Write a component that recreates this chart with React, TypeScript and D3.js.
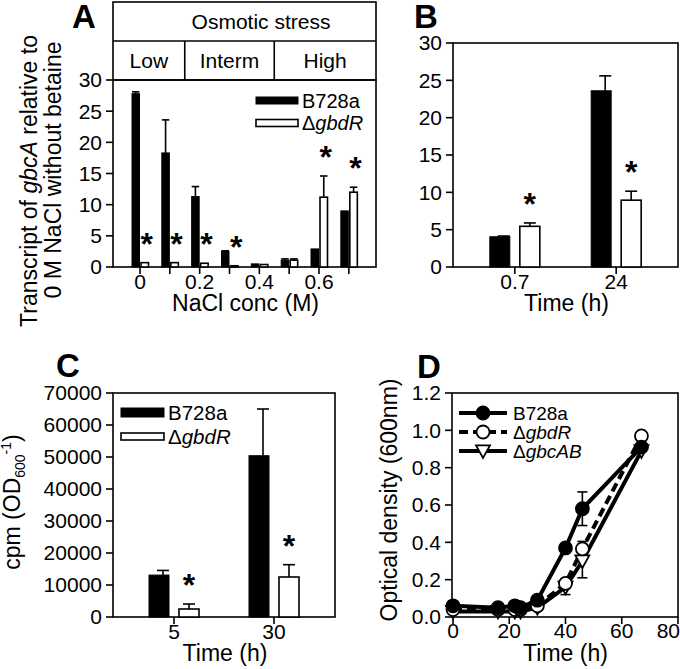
import React from 'react';
import * as d3 from 'd3';

const FONT = "'Liberation Sans', Arial, Helvetica, sans-serif";

// ---------- Panel A data ----------
const naclConc = [0, 0.1, 0.2, 0.3, 0.4, 0.5, 0.6, 0.7];
const naclTickLabels = [0, 0.2, 0.4, 0.6];
const aWild = [27.8, 18.3, 11.3, 2.5, 0.5, 1.1, 2.9, 9.0];
const aWildErr = [0.3, 5.3, 1.6, 0.1, 0, 0.2, 0, 0];
const aMut = [0.7, 0.7, 0.6, 0.2, 0.4, 1.1, 11.2, 12.0];
const aMutErr = [0, 0, 0, 0, 0, 0.2, 3.4, 0.8];
const aSig = [true, true, true, true, false, false, true, true];
const stressLevels = ['Low', 'Interm', 'High'];
const stressBounds = [0.15, 0.45];

// ---------- Panel B data ----------
const bTimes = ['0.7', '24'];
const bWild = [4.05, 23.6];
const bWildErr = [0.1, 2.0];
const bMut = [5.45, 8.95];
const bMutErr = [0.45, 1.2];
const bSig = [true, true];

// ---------- Panel C data ----------
const cTimes = ['5', '30'];
const cWild = [13100, 50400];
const cWildErr = [1450, 14600];
const cMut = [2500, 12500];
const cMutErr = [1560, 3850];
const cSig = [true, true];

// ---------- Panel D data ----------
const dTimes = [0, 16, 22, 24, 30, 40, 46, 67];
const dWild = [0.06, 0.05, 0.06, 0.05, 0.09, 0.37, 0.58, 0.91];
const dWildErr = [0, 0, 0, 0, 0, 0.02, 0.09, 0.01];
const dGbdR = [0.04, 0.04, 0.04, 0.04, 0.06, 0.18, 0.365, 0.97];
const dGbdRErr = [0, 0, 0, 0, 0, 0.02, 0.04, 0];
const dGbcAB = [0.03, 0.03, 0.03, 0.03, 0.05, 0.16, 0.30, 0.89];
const dGbcABErr = [0, 0, 0, 0, 0, 0.04, 0.09, 0];

const TICK = 21;
const TITLE = 23;
const SW = 1.6;

function Star({ x, y }: { x: number; y: number }) {
  return (
    <text x={x} y={y + 4} textAnchor="middle" fontSize={32} fontWeight="bold">*</text>
  );
}

function YAxis({ y, ticks, x0, fmt }: { y: any; ticks: number[]; x0: number; fmt: (v: number) => string }) {
  return (
    <g>
      {ticks.map((t) => (
        <g key={t}>
          <line x1={x0 - 7} x2={x0} y1={y(t)} y2={y(t)} stroke="#000" strokeWidth={SW} />
          <text x={x0 - 11} y={y(t)} dy="0.35em" textAnchor="end" fontSize={TICK}>{fmt(t)}</text>
        </g>
      ))}
    </g>
  );
}

function PanelA() {
  const L = 113, R = 376, T = 80, B = 267, HT = 2, HM = 41;
  const x = d3.scaleLinear().domain([0, 0.6]).range([140, 319]);
  const y = d3.scaleLinear().domain([0, 30]).range([B, T]);
  const yt = d3.range(0, 31, 5);
  const cellEdges = [L, ...stressBounds.map((b) => x(b)), R];
  return (
    <g>
      <text x={72} y={28} fontSize={33} fontWeight="bold">A</text>
      <rect x={L} y={HT} width={R - L} height={T - HT} fill="none" stroke="#000" strokeWidth={SW} />
      <line x1={L} x2={R} y1={HM} y2={HM} stroke="#000" strokeWidth={SW} />
      <text x={261} y={(HT + HM) / 2} dy="0.35em" textAnchor="middle" fontSize={21}>Osmotic stress</text>
      {stressBounds.map((b) => (
        <line key={b} x1={x(b)} x2={x(b)} y1={HM} y2={T} stroke="#000" strokeWidth={SW} />
      ))}
      {stressLevels.map((s, i) => (
        <text key={s} x={(cellEdges[i] + cellEdges[i + 1]) / 2} y={(HM + T) / 2} dy="0.35em" textAnchor="middle" fontSize={21}>{s}</text>
      ))}
      <rect x={L} y={T} width={R - L} height={B - T} fill="none" stroke="#000" strokeWidth={SW} />
      <YAxis y={y} ticks={yt} x0={L} fmt={(v) => String(v)} />
      {naclConc.map((v) => (
        <line key={v} x1={x(v)} x2={x(v)} y1={B} y2={B + 7} stroke="#000" strokeWidth={SW} />
      ))}
      {naclTickLabels.map((v) => (
        <text key={v} x={x(v)} y={289} textAnchor="middle" fontSize={TICK}>{String(v)}</text>
      ))}
      <text x={(L + R) / 2 + 1} y={311} textAnchor="middle" fontSize={TITLE}>NaCl conc (M)</text>
      {naclConc.map((v, i) => {
        const c = x(v);
        const bx0 = c - 8, bw = 7.5;
        const wx0 = c + 1, ww = 7.5;
        const wTop = y(aWild[i] + aWildErr[i]);
        const mTop = y(aMut[i] + aMutErr[i]);
        return (
          <g key={v}>
            <rect x={bx0} y={y(aWild[i])} width={bw} height={B - y(aWild[i])} fill="#000" stroke="#000" strokeWidth={1} />
            {aWildErr[i] > 0 && (
              <g stroke="#000" strokeWidth={SW}>
                <line x1={bx0 + bw / 2} x2={bx0 + bw / 2} y1={y(aWild[i])} y2={wTop} />
                <line x1={bx0} x2={bx0 + bw} y1={wTop} y2={wTop} />
              </g>
            )}
            <rect x={wx0} y={y(aMut[i])} width={ww} height={B - y(aMut[i])} fill="#fff" stroke="#000" strokeWidth={SW} />
            {aMutErr[i] > 0 && (
              <g stroke="#000" strokeWidth={SW}>
                <line x1={wx0 + ww / 2} x2={wx0 + ww / 2} y1={y(aMut[i])} y2={mTop} />
                <line x1={wx0} x2={wx0 + ww} y1={mTop} y2={mTop} />
              </g>
            )}
            {aSig[i] && <Star x={wx0 + ww / 2 + 2} y={mTop - 12} />}
          </g>
        );
      })}
      <rect x={256} y={97} width={42} height={7} fill="#000" stroke="#000" strokeWidth={1} />
      <text x={302} y={100.5} dy="0.35em" fontSize={20}>B728a</text>
      <rect x={256} y={119.5} width={42} height={7} fill="#fff" stroke="#000" strokeWidth={SW} />
      <text x={302} y={123} dy="0.35em" fontSize={20}>Δ<tspan fontStyle="italic">gbdR</tspan></text>
      <text transform={`translate(37,181) rotate(-90)`} textAnchor="middle" fontSize={TITLE}>
        Transcript of <tspan fontStyle="italic">gbcA</tspan> relative to
      </text>
      <text transform={`translate(61,170) rotate(-90)`} textAnchor="middle" fontSize={TITLE}>
        0 M NaCl without betaine
      </text>
    </g>
  );
}

function GroupedBars({ L, R, T, B, cats, wild, wildErr, mut, mutErr, sig, y }: any) {
  const x = d3.scalePoint().domain(cats).range([L, R]).padding(0.61);
  return (
    <g>
      {cats.map((c: string, i: number) => {
        const cx = x(c) as number;
        const bx0 = cx - 25, wx0 = cx + 5, bw = 20;
        const wTop = y(wild[i] + wildErr[i]);
        const mTop = y(mut[i] + mutErr[i]);
        return (
          <g key={c}>
            <line x1={cx} x2={cx} y1={B} y2={B + 7} stroke="#000" strokeWidth={SW} />
            <text x={cx} y={B + 22} textAnchor="middle" fontSize={TICK}>{c}</text>
            <rect x={bx0} y={y(wild[i])} width={bw} height={B - y(wild[i])} fill="#000" stroke="#000" strokeWidth={1} />
            {wildErr[i] > 0 && (
              <g stroke="#000" strokeWidth={SW}>
                <line x1={bx0 + bw / 2 + 4} x2={bx0 + bw / 2 + 4} y1={y(wild[i])} y2={wTop} />
                <line x1={bx0 + bw / 2 - 2} x2={bx0 + bw / 2 + 10} y1={wTop} y2={wTop} />
              </g>
            )}
            <rect x={wx0} y={y(mut[i])} width={bw} height={B - y(mut[i])} fill="#fff" stroke="#000" strokeWidth={SW} />
            {mutErr[i] > 0 && (
              <g stroke="#000" strokeWidth={SW}>
                <line x1={wx0 + bw / 2} x2={wx0 + bw / 2} y1={y(mut[i])} y2={mTop} />
                <line x1={wx0 + bw / 2 - 6} x2={wx0 + bw / 2 + 6} y1={mTop} y2={mTop} />
              </g>
            )}
            {sig[i] && <Star x={wx0 + bw / 2} y={mTop - 12} />}
          </g>
        );
      })}
    </g>
  );
}

function PanelB() {
  const L = 453, R = 678, T = 43, B = 267;
  const y = d3.scaleLinear().domain([0, 30]).range([B, T]);
  return (
    <g>
      <text x={414} y={28} fontSize={33} fontWeight="bold">B</text>
      <rect x={L} y={T} width={R - L} height={B - T} fill="none" stroke="#000" strokeWidth={SW} />
      <YAxis y={y} ticks={d3.range(0, 31, 5)} x0={L} fmt={(v) => String(v)} />
      <GroupedBars L={L} R={R} T={T} B={B} cats={bTimes} wild={bWild} wildErr={bWildErr} mut={bMut} mutErr={bMutErr} sig={bSig} y={y} />
      <text x={(L + R) / 2 + 1} y={311} textAnchor="middle" fontSize={TITLE}>Time (h)</text>
    </g>
  );
}

function PanelC() {
  const L = 113, R = 335, T = 393, B = 617;
  const y = d3.scaleLinear().domain([0, 70000]).range([B, T]);
  return (
    <g>
      <text x={56} y={377} fontSize={33} fontWeight="bold">C</text>
      <rect x={L} y={T} width={R - L} height={B - T} fill="none" stroke="#000" strokeWidth={SW} />
      <YAxis y={y} ticks={d3.range(0, 70001, 10000)} x0={L} fmt={d3.format('d')} />
      <GroupedBars L={L} R={R} T={T} B={B} cats={cTimes} wild={cWild} wildErr={cWildErr} mut={cMut} mutErr={cMutErr} sig={cSig} y={y} />
      <text x={225} y={661} textAnchor="middle" fontSize={TITLE}>Time (h)</text>
      <rect x={121} y={408} width={43} height={9} fill="#000" stroke="#000" strokeWidth={1} />
      <text x={168} y={412.5} dy="0.35em" fontSize={20.5}>B728a</text>
      <rect x={121} y={433} width={43} height={7} fill="#fff" stroke="#000" strokeWidth={SW} />
      <text x={168} y={436.5} dy="0.35em" fontSize={20.5}>Δ<tspan fontStyle="italic">gbdR</tspan></text>
      <text transform={`translate(20,502) rotate(-90)`} textAnchor="middle" fontSize={TITLE}>
        cpm (OD<tspan fontSize={14} dy={5}>600</tspan><tspan fontSize={14} dy={-14}>-1</tspan><tspan dy={9}>)</tspan>
      </text>
    </g>
  );
}

function trianglePath(cx: number, cy: number, s: number) {
  return `M${cx - s},${cy - s * 0.8} L${cx + s},${cy - s * 0.8} L${cx},${cy + s} Z`;
}

function PanelD() {
  const L = 452, R = 678, T = 393, B = 617;
  const x = d3.scaleLinear().domain([0, 80]).range([L + 1, R]);
  const y = d3.scaleLinear().domain([0, 1.2]).range([B, T]);
  const line = d3.line<number>().x((_, i) => x(dTimes[i])).y((d) => y(d));
  const series = [
    { vals: dGbcAB, err: dGbcABErr, dash: undefined, marker: 'tri' },
    { vals: dGbdR, err: dGbdRErr, dash: '9,5', marker: 'open' },
    { vals: dWild, err: dWildErr, dash: undefined, marker: 'filled' },
  ];
  const marker = (m: string, cx: number, cy: number, k: string) => {
    if (m === 'tri') return <path key={k} d={trianglePath(cx, cy, 7)} fill="#fff" stroke="#000" strokeWidth={1.8} />;
    if (m === 'open') return <circle key={k} cx={cx} cy={cy} r={6.5} fill="#fff" stroke="#000" strokeWidth={1.8} />;
    return <circle key={k} cx={cx} cy={cy} r={6.5} fill="#000" stroke="#000" strokeWidth={1.8} />;
  };
  const xt = d3.range(0, 81, 20);
  return (
    <g>
      <text x={417} y={378} fontSize={33} fontWeight="bold">D</text>
      <rect x={L} y={T} width={R - L} height={B - T} fill="none" stroke="#000" strokeWidth={SW} />
      <YAxis y={y} ticks={d3.range(0, 7).map((i) => i * 0.2)} x0={L} fmt={d3.format('.1f')} />
      {xt.map((t, i) => (
        <g key={t}>
          <line x1={x(t)} x2={x(t)} y1={B} y2={B + 7} stroke="#000" strokeWidth={SW} />
          <text x={i === xt.length - 1 ? 680 : x(t)} y={638} textAnchor={i === xt.length - 1 ? 'end' : 'middle'} fontSize={TICK}>{t}</text>
        </g>
      ))}
      <text x={x(40)} y={661} textAnchor="middle" fontSize={TITLE}>Time (h)</text>
      <text transform={`translate(397,500) rotate(-90)`} textAnchor="middle" fontSize={TITLE}>Optical density (600nm)</text>
      {series.map((s, si) => (
        <path key={si} d={line(s.vals) || ''} fill="none" stroke="#000" strokeWidth={4} strokeDasharray={s.dash} />
      ))}
      {series.map((s, si) => (
        <g key={'e' + si} stroke="#000" strokeWidth={1.6}>
          {s.vals.map((v, i) =>
            s.err[i] > 0 ? (
              <g key={i}>
                <line x1={x(dTimes[i])} x2={x(dTimes[i])} y1={y(v - s.err[i])} y2={y(v + s.err[i])} />
                <line x1={x(dTimes[i]) - 5} x2={x(dTimes[i]) + 5} y1={y(v + s.err[i])} y2={y(v + s.err[i])} />
                <line x1={x(dTimes[i]) - 5} x2={x(dTimes[i]) + 5} y1={y(v - s.err[i])} y2={y(v - s.err[i])} />
              </g>
            ) : null
          )}
        </g>
      ))}
      {series.map((s, si) => (
        <g key={'m' + si}>{s.vals.map((v, i) => marker(s.marker, x(dTimes[i]), y(v), String(i)))}</g>
      ))}
      {[
        { m: 'filled', dash: undefined, label: <tspan>B728a</tspan> },
        { m: 'open', dash: '9,5', label: <tspan>Δ<tspan fontStyle="italic">gbdR</tspan></tspan> },
        { m: 'tri', dash: undefined, label: <tspan>Δ<tspan fontStyle="italic">gbcAB</tspan></tspan> },
      ].map((e, i) => {
        const ly = 413 + i * 19;
        return (
          <g key={i}>
            <line x1={459} x2={507} y1={ly} y2={ly} stroke="#000" strokeWidth={4} strokeDasharray={e.dash} />
            {marker(e.m, 483, ly, 'l' + i)}
            <text x={513} y={ly} dy="0.35em" fontSize={19}>{e.label}</text>
          </g>
        );
      })}
    </g>
  );
}

export default function App() {
  return (
    <svg width={680} height={669} style={{ position: 'absolute', left: 0, top: 0, background: '#fff' }} fontFamily={FONT}>
      <rect width={680} height={669} fill="#fff" />
      <PanelA />
      <PanelB />
      <PanelC />
      <PanelD />
    </svg>
  );
}
